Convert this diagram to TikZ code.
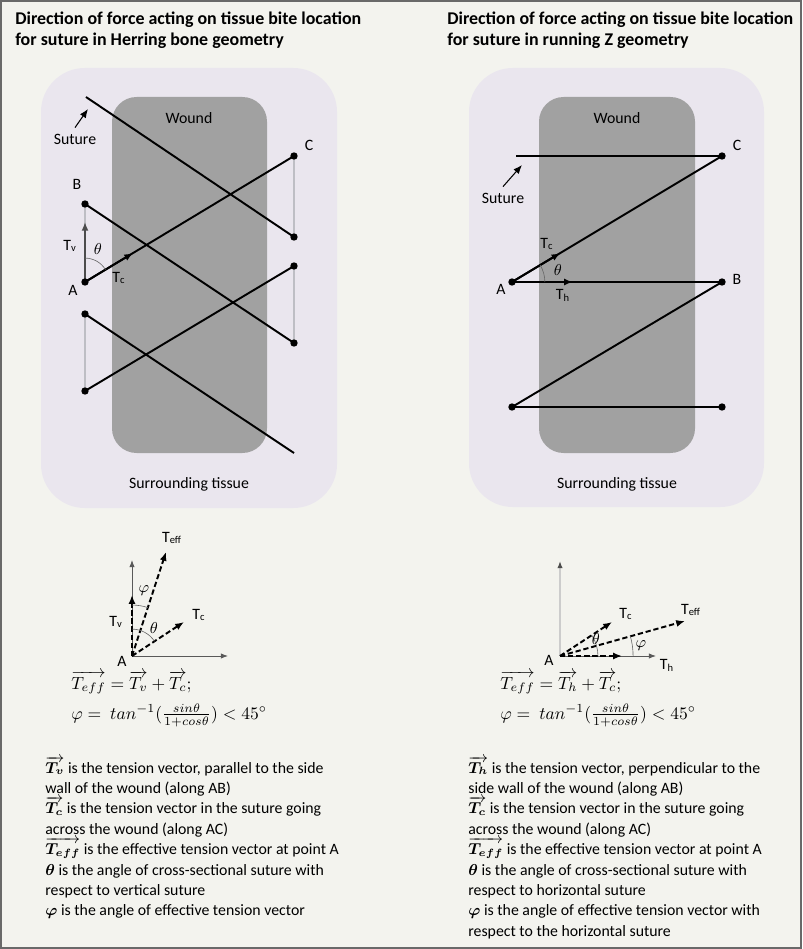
\documentclass[tikz,border=0pt]{standalone}
\usepackage{fontspec}
\setmainfont{Carlito}
\usepackage{amsmath,amssymb}
\usetikzlibrary{arrows.meta,calc,angles}
\definecolor{bgpanel}{RGB}{243,243,238}
\definecolor{tissuecol}{RGB}{234,230,238}
\definecolor{woundcol}{RGB}{161,161,161}
\definecolor{framecol}{RGB}{105,105,105}
\definecolor{loopcol}{RGB}{190,190,196}

\begin{document}
\begin{tikzpicture}[x=0.02cm, y=-0.02cm, every node/.style={font=\fontsize{9pt}{11pt}\selectfont}]
  \tikzset{
    suture/.style={line width=1.1pt, black},
    loopline/.style={line width=1.1pt, loopcol},
    knot/.style={circle, fill=black, inner sep=0pt, minimum size=4.2pt},
    vec/.style={line width=1.1pt, -{Latex[length=5pt,width=4pt]}},
    dvec/.style={vec, dash pattern=on 3pt off 1.6pt},
    axis/.style={line width=0.5pt, black!65, -{Latex[length=4pt,width=3pt]}},
    pointer/.style={line width=0.6pt, -{Latex[length=5pt,width=4pt]}},
    anglearc/.style={draw, line width=0.35pt, black!60},
    heading/.style={font=\fontsize{10.2pt}{11.9pt}\selectfont\bfseries, align=left, anchor=north west, inner sep=0pt},
    eqn/.style={font=\fontsize{10pt}{12pt}\selectfont, anchor=base west, inner sep=0pt},
    bodyline/.style={anchor=base west, inner sep=0pt}
  }
  \useasboundingbox (0,0) rectangle (802,949);
  \fill[bgpanel] (0,0) rectangle (802,949);
  \draw[framecol, line width=1.2pt] (1,1) rectangle (801,948);

  % headings
  \node[heading] (hTitle) at (15,12) {Direction of force acting on tissue bite location\\for suture in Herring bone geometry};
  \node[heading] (zTitle) at (447,12) {Direction of force acting on tissue bite location\\for suture in running Z geometry};

  % Herring bone panel
  \fill[tissuecol, rounded corners=25pt] (41,68) rectangle (337,508);
  \fill[woundcol, rounded corners=14pt] (112,97) rectangle (267,453);
  \node (hWound) at (189,118) {Wound};
  \node (hTissue) at (189,484) {Surrounding tissue};

  \coordinate (hS) at (86,97);
  \coordinate (hD1) at (294,237);
  \coordinate (hC) at (294,156);
  \coordinate (hA) at (85,282);
  \coordinate (hB) at (85,204);
  \coordinate (hD2) at (294,343);
  \coordinate (hD3) at (294,266);
  \coordinate (hD4) at (85,391);
  \coordinate (hD5) at (85,314);
  \coordinate (hE) at (294,453);

  \draw[loopline] (hD1) -- (hC) (hB) -- (hA) (hD2) -- (hD3) (hD4) -- (hD5);
  \draw[vec, black!70] (hA) -- ($(hA)!0.77!(hB)$);
  \draw[suture] (hS) -- (hD1) (hC) -- (hA) (hB) -- (hD2) (hD3) -- (hD4) (hD5) -- (hE);
  \draw[vec] (hA) -- ($(hA)!0.23!(hC)$);
  \foreach \k in {hA,hB,hC,hD1,hD2,hD3,hD4,hD5}
    \node[knot] (\k-dot) at (\k) {};
  \pic[anglearc, angle radius=13.6pt] {angle = hC--hA--hB};

  \node (hlA) at (73,290) {A};
  \node (hlB) at (77,184) {B};
  \node (hlC) at (309,145) {C};
  \node (hlTv) at (70,246) {T\textsubscript{v}};
  \node (hlTc) at (119,278) {T\textsubscript{c}};
  \node (hlth) at (98,249) {$\theta$};
  \node (hSut) at (75,139) {Suture};
  \coordinate (hSutTip) at (88,109);
  \draw[pointer] (hSut.north) -- (hSutTip);

  % running Z panel
  \fill[tissuecol, rounded corners=25pt] (469,68) rectangle (764,507);
  \fill[woundcol, rounded corners=14pt] (539,97) rectangle (695,453);
  \node (zWound) at (617,118) {Wound};
  \node (zTissue) at (617,484) {Surrounding tissue};

  \coordinate (zS) at (516,156);
  \coordinate (zC) at (722,156);
  \coordinate (zA) at (512,282);
  \coordinate (zB) at (722,282);
  \coordinate (zD1) at (512,407);
  \coordinate (zD2) at (722,407);

  \draw[suture] (zS) -- (zC) -- (zA) -- (zB) -- (zD1) -- (zD2);
  \draw[vec] (zA) -- ($(zA)!0.29!(zB)$);
  \draw[vec] (zA) -- ($(zA)!0.23!(zC)$);
  \foreach \k in {zA,zB,zC,zD1,zD2}
    \node[knot] (\k-dot) at (\k) {};
  \pic[anglearc, angle radius=18.7pt] {angle = zB--zA--zC};

  \node (zlA) at (501,289) {A};
  \node (zlB) at (737,279) {B};
  \node (zlC) at (737,145) {C};
  \node (zlTc) at (547,244) {T\textsubscript{c}};
  \node (zlTh) at (563,295) {T\textsubscript{h}};
  \node (zlth) at (558,270) {$\theta$};
  \node (zSut) at (503,198) {Suture};
  \coordinate (zSutTip) at (522,165);
  \draw[pointer] (zSut.north) -- (zSutTip);

  % vector sums
  \coordinate (vA) at (132,656);
  \coordinate (vY) at (132,560);
  \coordinate (vX) at (228,656);
  \coordinate (vTv) at (132,595);
  \coordinate (vTc) at (184,622);
  \coordinate (vTeff) at (166,552);
  \draw[axis] (vA) -- (vY);
  \draw[axis] (vA) -- (vX);
  \draw[dvec] (vA) -- (vTv);
  \draw[dvec] (vA) -- (vTc);
  \draw[dvec] (vA) -- (vTeff);
  \pic[anglearc, angle radius=15.3pt] {angle = vTc--vA--vY};
  \pic[anglearc, angle radius=29pt] {angle = vTeff--vA--vY};
  \node (vlTeff) at (172,538) {T\textsubscript{eff}};
  \node (vlTv) at (116,622) {T\textsubscript{v}};
  \node (vlTc) at (199,615) {T\textsubscript{c}};
  \node (vlA) at (122,661) {A};
  \node (vlphi) at (144,591) {$\varphi$};
  \node (vlth) at (154,628) {$\theta$};

  \coordinate (wA) at (560,656);
  \coordinate (wY) at (560,561);
  \coordinate (wX) at (656,656);
  \coordinate (wTh) at (622,656);
  \coordinate (wTc) at (612,622);
  \coordinate (wTeff) at (685,621);
  \draw[axis, black!20, line width=1pt, -{Latex[length=4pt,width=3pt,color=black!70]}] (wA) -- (wY);
  \draw[axis] (wA) -- (wX);
  \draw[dvec] (wA) -- (wTh);
  \draw[dvec] (wA) -- (wTc);
  \draw[dvec] (wA) -- (wTeff);
  \pic[anglearc, angle radius=21.6pt] {angle = wX--wA--wTc};
  \pic[anglearc, angle radius=41.6pt] {angle = wX--wA--wTeff};
  \node (wlTc) at (626,614) {T\textsubscript{c}};
  \node (wlTeff) at (691,610) {T\textsubscript{eff}};
  \node (wlTh) at (667,665) {T\textsubscript{h}};
  \node (wlA) at (549,660) {A};
  \node (wlth) at (596,639) {$\theta$};
  \node (wlphi) at (641,646) {$\varphi$};

  % equations
  \node[eqn] (hEq1) at (71,689) {$\overrightarrow{T_{eff}} = \overrightarrow{T_v} + \overrightarrow{T_c};$};
  \node[eqn] (hEq2) at (71,719) {$\varphi =\ tan^{-1}(\frac{sin\theta}{1+cos\theta}) < 45^{\circ}$};
  \node[eqn] (zEq1) at (500,689) {$\overrightarrow{T_{eff}} = \overrightarrow{T_h} + \overrightarrow{T_c};$};
  \node[eqn] (zEq2) at (500,719) {$\varphi =\ tan^{-1}(\frac{sin\theta}{1+cos\theta}) < 45^{\circ}$};

  % legends
  \foreach \txt [count=\i] in {
      {$\overrightarrow{\boldsymbol{T_v}}$ is the tension vector, parallel to the side},
      {wall of the wound (along AB)},
      {$\overrightarrow{\boldsymbol{T_c}}$ is the tension vector in the suture going},
      {across the wound (along AC)},
      {$\overrightarrow{\boldsymbol{T_{eff}}}$ is the effective tension vector at point A},
      {$\boldsymbol{\theta}$ is the angle of cross-sectional suture with},
      {respect to vertical suture},
      {$\boldsymbol{\varphi}$ is the angle of effective tension vector}}
    \node[bodyline] (hL\i) at (45,{773+20.4*(\i-1)}) {\txt};
  \foreach \txt [count=\i] in {
      {$\overrightarrow{\boldsymbol{T_h}}$ is the tension vector, perpendicular to the},
      {side wall of the wound (along AB)},
      {$\overrightarrow{\boldsymbol{T_c}}$ is the tension vector in the suture going},
      {across the wound (along AC)},
      {$\overrightarrow{\boldsymbol{T_{eff}}}$ is the effective tension vector at point A},
      {$\boldsymbol{\theta}$ is the angle of cross-sectional suture with},
      {respect to horizontal suture},
      {$\boldsymbol{\varphi}$ is the angle of effective tension vector with},
      {respect to the horizontal suture}}
    \node[bodyline] (zL\i) at (468,{773+20.4*(\i-1)}) {\txt};
\end{tikzpicture}
\end{document}
